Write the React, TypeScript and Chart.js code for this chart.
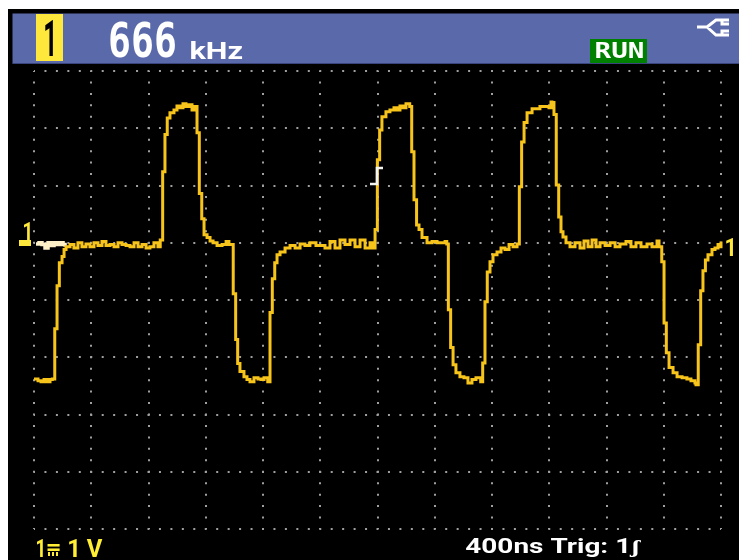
import React, { useEffect, useRef } from "react";
import { Chart, registerables } from "chart.js";

Chart.register(...registerables);

const readingValue = "666";
const readingUnit = "kHz";
const statusLabel = "RUN";
const channelLabel = "1";
const rangeLabel = "1 V";
const timebaseLabel = "400ns Trig: 1ʃ";

const timeNs = [
  0, 28, 49, 70, 91, 112, 128, 145, 161, 177, 196, 210, 224,
  252, 279, 307, 335, 363, 391, 419, 447, 475, 503, 531, 559, 587, 615, 643, 671, 699, 727, 755, 783, 810, 838, 866,
  882, 899, 915, 931, 950, 978, 999, 1020, 1041, 1062, 1083, 1104, 1123,
  1139, 1155, 1172, 1188, 1209, 1230, 1251, 1279, 1314, 1342, 1362, 1376,
  1392, 1409, 1423, 1439, 1467, 1488, 1509, 1537, 1565, 1586, 1607, 1633,
  1649, 1665, 1682, 1698, 1719, 1754, 1789, 1824, 1859, 1893, 1928, 1970, 1998, 2033, 2068, 2103, 2138, 2173, 2208, 2243, 2278, 2313, 2348, 2367,
  2383, 2399, 2415, 2431, 2459, 2487, 2515, 2536, 2557, 2578, 2599, 2625,
  2639, 2655, 2673, 2690, 2711, 2746, 2781, 2816, 2872, 2884,
  2895, 2911, 2928, 2948, 2976, 3004, 3032, 3060, 3088, 3121,
  3135, 3151, 3167, 3186, 3207, 3235, 3263, 3291, 3319, 3347, 3375,
  3391, 3407, 3424, 3445, 3480, 3535, 3570, 3598, 3612, 3619,
  3633, 3649, 3666, 3682, 3696, 3717, 3745, 3780, 3815, 3843, 3871, 3899, 3927, 3955, 3990, 4025, 4060, 4094, 4136, 4171, 4206, 4241, 4283, 4318, 4353, 4367,
  4386, 4402, 4418, 4437, 4465, 4493, 4528, 4562, 4590, 4618, 4625,
  4641, 4658, 4674, 4691, 4709, 4737, 4758, 4779, 4797, 4800,
];

const volts = [
  -2.38, -2.41, -2.43, -2.39, -2.43, -2.39, -2.38, -1.5, -0.75, -0.35, -0.24, -0.12, -0.07,
  -0.03, -0.09, 0, -0.07, -0.02, -0.07, 0, -0.05, 0.02, -0.05, -0.03, -0.07, 0, -0.03, -0.05, -0.07, 0, -0.07, -0.03, -0.09, -0.07, 0, -0.07,
  0.05, 1.24, 1.89, 2.18, 2.27, 2.32, 2.39, 2.36, 2.43, 2.38, 2.41, 2.32, 2.38,
  1.92, 0.86, 0.42, 0.14, 0.09, 0.03, 0, -0.05, -0.03, 0.02, -0.03, -0.03,
  -0.89, -1.69, -2.11, -2.25, -2.34, -2.39, -2.43, -2.36, -2.38, -2.39, -2.36, -2.43,
  -1.22, -0.63, -0.35, -0.21, -0.16, -0.09, -0.05, -0.09, -0.02, -0.05, 0, -0.05, -0.05, -0.09, 0.02, -0.09, 0.05, -0.03, 0.05, -0.07, 0.05, -0.09, 0, -0.09,
  0.23, 1.45, 1.97, 2.2, 2.29, 2.32, 2.36, 2.32, 2.39, 2.36, 2.43, 2.38,
  1.59, 0.75, 0.31, 0.23, 0.09, 0, 0.02, 0, 0.02, -0.02,
  -1.17, -1.83, -2.13, -2.27, -2.34, -2.36, -2.45, -2.39, -2.36, -2.43,
  -2.1, -1.03, -0.51, -0.33, -0.21, -0.16, -0.09, -0.12, -0.03, -0.07, -0.02,
  0.98, 1.76, 2.1, 2.27, 2.34, 2.38, 2.38, 2.36, 2.46, 2.45,
  2.24, 1.01, 0.45, 0.19, 0.1, 0, -0.07, 0, -0.09, 0.03, -0.07, 0.05, -0.07, 0, -0.05, 0, -0.07, -0.02, 0.02, -0.07, 0, -0.07, -0.02, -0.07, 0.03, -0.07,
  -0.33, -1.4, -1.92, -2.18, -2.27, -2.34, -2.36, -2.38, -2.41, -2.45, -2.48,
  -1.78, -0.84, -0.49, -0.3, -0.21, -0.12, -0.09, -0.03, -0.07, 0.02,
];

const preTriggerTimeNs = [14, 35, 56, 77, 98, 119, 140, 161, 182, 203, 217];
const preTriggerVolts = [-0.02, 0, -0.03, -0.09, 0, -0.05, 0, -0.03, 0, -0.03, -0.07];

function fit(
  ctx: CanvasRenderingContext2D,
  text: string,
  x0: number,
  y0: number,
  x1: number,
  y1: number,
  color: string,
  font: string
) {
  ctx.save();
  ctx.font = font;
  ctx.fillStyle = color;
  ctx.textAlign = "left";
  ctx.textBaseline = "alphabetic";
  const m = ctx.measureText(text);
  const w = m.actualBoundingBoxLeft + m.actualBoundingBoxRight;
  const h = m.actualBoundingBoxAscent + m.actualBoundingBoxDescent;
  ctx.translate(x0, y0);
  ctx.scale((x1 - x0) / w, (y1 - y0) / h);
  ctx.fillText(text, m.actualBoundingBoxLeft, m.actualBoundingBoxAscent);
  ctx.restore();
}

const scopeFrame = {
  id: "scopeFrame",
  afterDraw(chart: Chart) {
    const ctx = chart.ctx;
    const bold = 'bold 40px Roboto';
    const mono = 'bold 40px "DejaVu Sans Mono"';
    ctx.save();
    ctx.translate(-8, -9);

    ctx.fillStyle = "#5a69aa";
    ctx.fillRect(12.5, 13.5, 727, 50);
    ctx.fillStyle = "#39457c";
    ctx.fillRect(12.5, 63, 727, 1);

    ctx.fillStyle = "#ffe83c";
    ctx.fillRect(36, 14, 27, 47);
    fit(ctx, channelLabel, 45, 20, 53, 56, "#000000", bold);

    fit(ctx, readingValue, 110, 20, 175, 58, "#ffffff", mono);
    fit(ctx, readingUnit, 191, 41, 242, 59, "#ffffff", bold);

    ctx.fillStyle = "#008000";
    ctx.fillRect(590, 39, 57, 24);
    fit(ctx, statusLabel, 596, 42, 643, 59, "#ffffff", mono);

    ctx.strokeStyle = "#ffffff";
    ctx.lineWidth = 3;
    ctx.beginPath();
    ctx.moveTo(697, 27);
    ctx.lineTo(707, 27);
    ctx.lineTo(716, 20);
    ctx.lineTo(729, 20);
    ctx.moveTo(707, 27);
    ctx.lineTo(716, 35);
    ctx.lineTo(729, 35);
    ctx.moveTo(722, 20);
    ctx.lineTo(722, 24);
    ctx.lineTo(729, 24);
    ctx.moveTo(722, 35);
    ctx.lineTo(722, 31);
    ctx.lineTo(729, 31);
    ctx.stroke();

    fit(ctx, channelLabel, 24, 222, 30, 240, "#ffe83c", bold);
    ctx.fillStyle = "#ffe83c";
    ctx.fillRect(19, 240, 12, 6);
    fit(ctx, channelLabel, 726, 238, 733, 256, "#ffe83c", bold);

    ctx.strokeStyle = "#f4f4f0";
    ctx.lineWidth = 2.6;
    ctx.beginPath();
    ctx.moveTo(370, 184);
    ctx.lineTo(377, 184);
    ctx.lineTo(377, 168);
    ctx.lineTo(383, 168);
    ctx.stroke();

    fit(ctx, channelLabel, 37, 539, 43, 557, "#ffee33", bold);
    fit(ctx, "=", 47, 544, 60, 551, "#ffee33", bold);
    ctx.fillStyle = "#ffee33";
    ctx.fillRect(48, 552, 2, 4);
    ctx.fillRect(52, 552, 2, 4);
    ctx.fillRect(56, 552, 2, 4);
    fit(ctx, rangeLabel, 69, 539, 103, 557, "#ffee33", bold);

    fit(ctx, timebaseLabel, 466, 538, 641, 557, "#ffffff", bold);
    ctx.restore();
  },
};

export default function App() {
  const ref = useRef<HTMLCanvasElement>(null);

  useEffect(() => {
    const chart = new Chart(ref.current as HTMLCanvasElement, {
      type: "line",
      data: {
        datasets: [
          {
            label: "Channel 1",
            data: timeNs.map((t, i) => ({ x: t, y: volts[i] })),
            borderColor: "#f7c41c",
            borderWidth: 3,
            pointRadius: 0,
            stepped: "before",
            tension: 0,
            clip: false,
          },
          {
            label: "Pre-trigger",
            data: preTriggerTimeNs.map((t, i) => ({ x: t, y: preTriggerVolts[i] })),
            borderColor: "#fff0c8",
            borderWidth: 3.5,
            pointRadius: 0,
            stepped: "before",
            clip: false,
          },
        ],
      },
      options: {
        responsive: false,
        animation: false,
        events: [],
        layout: { padding: { left: 26, right: 18, top: 62, bottom: 31 } },
        plugins: { legend: { display: false }, tooltip: { enabled: false }, title: { display: false } },
        scales: {
          x: {
            type: "linear",
            min: 0,
            max: 4800,
            ticks: { display: false, stepSize: 400 },
            border: { display: false, dash: [2, 9.45], dashOffset: 1 },
            grid: { color: "#a0a0a0", lineWidth: 2, drawTicks: false },
          },
          y: {
            type: "linear",
            min: -5,
            max: 3,
            ticks: { display: false, stepSize: 1 },
            border: { display: false, dash: [2, 9.45], dashOffset: 1 },
            grid: { color: "#a0a0a0", lineWidth: 2, drawTicks: false },
          },
        },
      },
      plugins: [scopeFrame],
    } as any);
    return () => chart.destroy();
  }, []);

  return (
    <div style={{ position: "fixed", left: 8, top: 9, width: 731, height: 551, background: "#000000" }}>
      <canvas ref={ref} width={731} height={551} style={{ display: "block" }} />
    </div>
  );
}
